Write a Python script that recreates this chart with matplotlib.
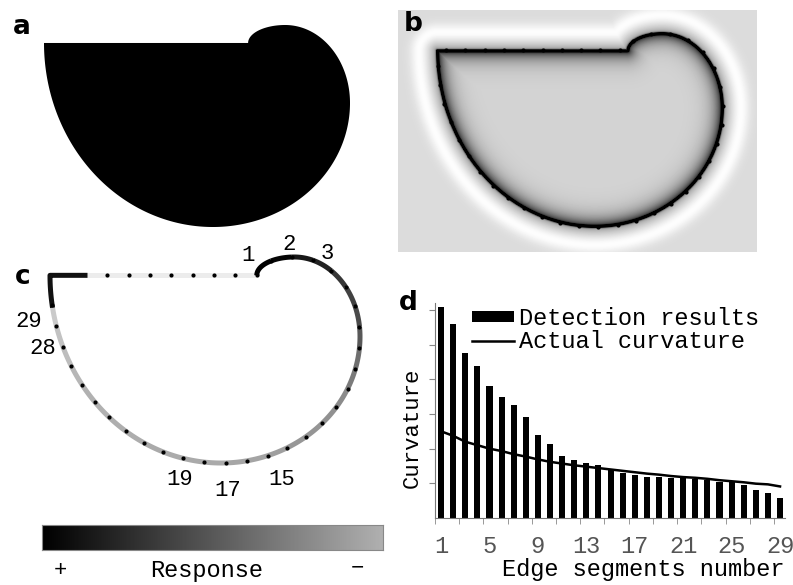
import numpy as np
import matplotlib
matplotlib.use('Agg')
import matplotlib.pyplot as plt
from matplotlib.path import Path
from matplotlib.collections import LineCollection
from matplotlib.colors import LinearSegmentedColormap

W, H = 793, 585

# panel d: curvature per edge segment
segments = np.arange(1, 30)
detection = [6.08, 5.60, 4.76, 4.37, 3.81, 3.49, 3.27, 2.91, 2.38, 2.12,
             1.80, 1.67, 1.59, 1.54, 1.38, 1.30, 1.25, 1.18, 1.18, 1.16,
             1.18, 1.12, 1.09, 1.04, 1.04, 0.94, 0.82, 0.72, 0.58]
actual = [2.50, 2.37, 2.20, 2.10, 2.00, 1.93, 1.84, 1.77, 1.69, 1.62,
          1.57, 1.52, 1.48, 1.44, 1.40, 1.36, 1.32, 1.28, 1.25, 1.21,
          1.18, 1.16, 1.13, 1.09, 1.06, 1.03, 0.99, 0.97, 0.91]
xtick_labels = [1, 5, 9, 13, 17, 21, 25, 29]
c_labels = [1, 2, 3, 15, 17, 19, 28, 29]
# small nudges (px) so the segment numbers sit where the original put them
c_label_nudge = {1: (-25, 8), 2: (-5, 4), 3: (10, 12), 15: (-10, 10),
                 17: (-15, 7), 19: (-12, -3), 28: (5, 16), 29: (-4, 12)}

# test shape in a unit box (v grows downwards): elliptic arcs going clockwise
# from the foot of the bump, closed by the flat top edge
arc_centers = [(0.788, 0.089), (0.788, 0.386), (0.552, 0.386), (0.552, 0.089)]
arc_radii = [(0.121, 0.089), (0.212, 0.386), (0.448, 0.614), (0.552, 0.911)]
arc_angles = [(np.pi, 1.5 * np.pi), (1.5 * np.pi, 2 * np.pi), (0, 0.5 * np.pi), (0.5 * np.pi, np.pi)]
top_edge_v = 0.089

MONO = ['Liberation Mono', 'DejaVu Sans Mono']


def box(x0, y0, x1, y1):
    return [x0 / W, 1 - y1 / H, (x1 - x0) / W, (y1 - y0) / H]


def arc_points(n=300):
    parts = []
    for (cu, cv), (a, b), (t0, t1) in zip(arc_centers, arc_radii, arc_angles):
        t = np.linspace(t0, t1, n)
        parts.append(np.c_[cu + a * np.cos(t), cv + b * np.sin(t)])
    p = np.vstack(parts)
    keep = np.r_[True, np.hypot(*np.diff(p, axis=0).T) > 1e-9]
    return p[keep]


def arclen(p, sx, sy):
    q = p * [sx, sy]
    return np.r_[0, np.cumsum(np.hypot(*np.diff(q, axis=0).T))]


def at_length(p, s, s_new):
    return np.c_[np.interp(s_new, s, p[:, 0]), np.interp(s_new, s, p[:, 1])]


def shape_axes(px_box, ox, oy, sx, sy):
    x0, y0, x1, y1 = px_box
    ax = fig.add_axes(box(x0, y0, x1, y1))
    ax.set_xlim((x0 - ox) / sx, (x1 - ox) / sx)
    ax.set_ylim((y1 - oy) / sy, (y0 - oy) / sy)
    ax.axis('off')
    return ax


curve = arc_points()
top_edge = np.array([[0.0, top_edge_v], [curve[0, 0], top_edge_v]])
closed = np.vstack([top_edge[:1], curve])

fig = plt.figure(figsize=(W / 100, H / 100), dpi=100)

# ---- a: the binary shape
ax_a = shape_axes((0, 0, 390, 240), 44, 25, 306, 202)
ax_a.fill(closed[:, 0], closed[:, 1], color='black', lw=0)

# ---- b: filter response
bx = (398, 10, 757, 252)
ox, oy, sx, sy = 437, 33, 286, 194
ax_b = shape_axes(bx, ox, oy, sx, sy)
ulim = ((bx[0] - ox) / sx, (bx[2] - ox) / sx)
vlim = ((bx[1] - oy) / sy, (bx[3] - oy) / sy)
gu, gv = np.meshgrid(np.linspace(*ulim, bx[2] - bx[0]), np.linspace(*vlim, bx[3] - bx[1]))
grid = np.c_[gu.ravel(), gv.ravel()]
closed_loop = np.vstack([closed, closed[:1]])
s_b = arclen(closed_loop, sx, sy)
dense = at_length(closed_loop, s_b, np.arange(0, s_b[-1], 1.0)) * [sx, sy]
gpx = grid * [sx, sy]
dist = np.empty(len(gpx))
for i in range(0, len(gpx), 4000):
    chunk = gpx[i:i + 4000]
    dist[i:i + 4000] = np.sqrt(((chunk[:, None, :] - dense[None, :, :]) ** 2).sum(-1)).min(1)
inside = Path(closed_loop).contains_points(grid)
img = np.where(inside,
               0.83 - 0.75 * np.exp(-dist / 8),
               0.86 + 0.14 * np.exp(-((dist - 18) / 9) ** 2) - 0.35 * np.exp(-dist / 5))
img = img - 0.9 * np.exp(-(dist / 1.4) ** 2)
img = np.clip(img, 0, 1).reshape(gu.shape)
ax_b.imshow(img, cmap='gray', vmin=0, vmax=1, extent=(ulim[0], ulim[1], vlim[1], vlim[0]),
            aspect='auto', interpolation='bilinear')
dots_b = at_length(closed_loop, s_b, np.arange(9, s_b[-1] - 5, 19.3))
ax_b.plot(dots_b[:, 0], dots_b[:, 1], 'o', color='black', ms=3, mew=0)
ax_b.set_xlim(*ulim)
ax_b.set_ylim(vlim[1], vlim[0])

# ---- c: segments shaded by response
ox, oy, sx, sy = 50, 257, 310, 206
ax_c = shape_axes((0, 240, 400, 480), ox, oy, sx, sy)
s_c = arclen(curve, sx, sy)
L = s_c[-1]
gap = 30
seg = (L - gap) / 29
bounds = np.arange(30) * seg
shades = [str(0.92 * (1 - v / max(detection)) ** 1.5) for v in detection]
pieces = [at_length(curve, s_c, np.linspace(bounds[i], bounds[i + 1], 20)) for i in range(29)]
corner_u = 35 / sx
ax_c.plot([corner_u, curve[0, 0]], [top_edge_v, top_edge_v], color='#ececec', lw=3.6,
          solid_capstyle='butt')
ax_c.add_collection(LineCollection(pieces, colors=shades, linewidths=3.6, capstyle='butt'))
corner = np.vstack([at_length(curve, s_c, np.linspace(L - gap, L, 20)), [[corner_u, top_edge_v]]])
ax_c.plot(corner[:, 0], corner[:, 1], color='#111111', lw=3.6, solid_joinstyle='round')
dots_c = at_length(curve, s_c, bounds)
top_dots_u = curve[0, 0] - np.arange(1, 12) * seg / sx
top_dots_u = top_dots_u[top_dots_u * sx > 45]
ax_c.plot(dots_c[:, 0], dots_c[:, 1], 'o', color='black', ms=3, mew=0)
ax_c.plot(top_dots_u, np.full(len(top_dots_u), top_edge_v), 'o', color='black', ms=3, mew=0)
mids = (bounds[:-1] + bounds[1:]) / 2
for k in c_labels:
    p = at_length(curve, s_c, [mids[k - 1]])[0]
    dx, dy = (p[0] - 0.5) * sx, (p[1] - 0.5) * sy
    n = np.hypot(dx, dy)
    nx, ny = c_label_nudge[k]
    off_x = dx / n * 22 + nx
    off_y = dy / n * 22 + ny
    ax_c.annotate(str(k), xy=p, xytext=(off_x * 0.72, -off_y * 0.72), textcoords='offset points',
                  ha='center', va='center', fontsize=16, family=MONO)

# response scale
cb_cmap = LinearSegmentedColormap.from_list('resp', ['#000000', '#b0b0b0'])
ax_cb = fig.add_axes(box(42, 525, 383, 550))
ax_cb.imshow(np.linspace(0, 1, 256)[None, :], aspect='auto', cmap=cb_cmap, extent=(0, 1, 0, 1))
ax_cb.set_xticks([])
ax_cb.set_yticks([])
for sp in ax_cb.spines.values():
    sp.set_color('#888888')
    sp.set_linewidth(0.8)
fig.text(60 / W, 1 - 571 / H, '+', ha='center', va='center', fontsize=16, family=MONO)
fig.text(207 / W, 1 - 571 / H, 'Response', ha='center', va='center', fontsize=17, family=MONO)
fig.text(357 / W, 1 - 568 / H, '−', ha='center', va='center', fontsize=16, family=MONO)

# ---- d: curvature chart
ax = fig.add_axes(box(435, 303, 785, 518))
bars = ax.bar(segments, detection, width=0.5, color='black')
line, = ax.plot(segments, actual, color='black', lw=1.8)
ax.set_xlim(0.5, 29.41)
ax.set_ylim(0, 6.2)
ax.spines['top'].set_visible(False)
ax.spines['right'].set_visible(False)
for sp in ('left', 'bottom'):
    ax.spines[sp].set_color('#777777')
ax.set_xticks(xtick_labels)
ax.set_xticklabels([str(t) for t in xtick_labels], family=MONO, fontsize=17, color='#555555')
ax.set_xticks(np.arange(0.5, 29, 2), minor=True)
ax.tick_params(axis='x', which='major', length=0, pad=12)
ax.tick_params(axis='x', which='minor', length=4, color='#888888')
ax.set_yticks(np.arange(1, 7))
ax.set_yticklabels([])
ax.tick_params(axis='y', length=4, color='#888888')
ax.set_xlabel('Edge segments number', loc='right', family=MONO, fontsize=17, labelpad=0)
ax.set_ylabel('Curvature', family=MONO, fontsize=16)
ax.yaxis.set_label_coords(-0.034, 0.42)
ax.legend([bars, line], ['Detection results', 'Actual curvature'], loc='upper left',
          bbox_to_anchor=(0.105, 0.98), frameon=False, prop={'family': MONO, 'size': 17},
          handlelength=1.8, handleheight=0.35, handletextpad=0.2, labelspacing=0.0,
          borderpad=0, borderaxespad=0)

# panel letters
for lab, x, y in [('a', 22, 27), ('b', 413, 24), ('c', 23, 277), ('d', 408, 303)]:
    fig.text(x / W, 1 - y / H, lab, ha='center', va='center', fontsize=19, fontweight='bold')

fig.savefig('out.png', dpi=100)
